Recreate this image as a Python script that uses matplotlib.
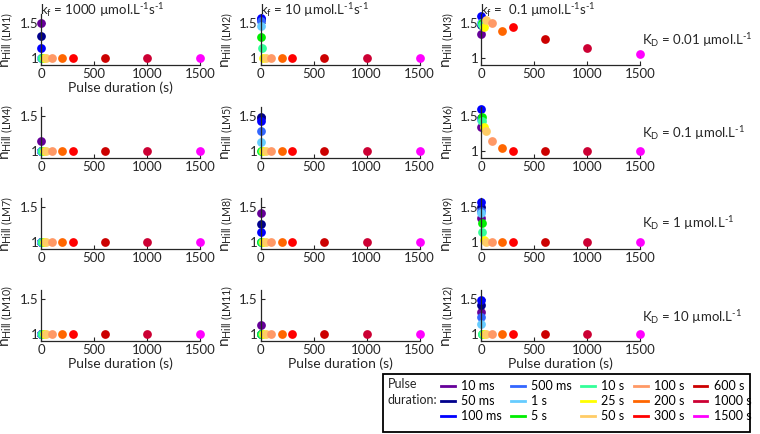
import numpy as np
from matplotlib import pyplot as plt
from matplotlib.lines import Line2D
from matplotlib.patches import Rectangle

# fonts
plt.rcParams["font.family"] = ["Lato", "DejaVu Sans"]
plt.rcParams["mathtext.fontset"] = "custom"
plt.rcParams["mathtext.rm"] = "Lato"
plt.rcParams["mathtext.it"] = "Lato:italic"
plt.rcParams["mathtext.bf"] = "Lato:bold"

# pulse durations (s) and legend names
durations = [0.01, 0.05, 0.1, 0.5, 1, 5, 10, 25, 50, 100, 200, 300, 600, 1000, 1500]
duration_labels = ["10 ms", "50 ms", "100 ms", "500 ms", "1 s", "5 s", "10 s", "25 s",
                   "50 s", "100 s", "200 s", "300 s", "600 s", "1000 s", "1500 s"]
colors = ["#660099", "#00008c", "#0000ff", "#3366ff", "#66ccff", "#00ee00", "#33ff99",
          "#ffff00", "#ffcc66", "#ff9966", "#ff6600", "#ff0000", "#cc0000", "#cc0033", "#ff00ff"]

# n_Hill values
nhill_lm1 = [1.50, 1.31, 1.14, 1, 1, 1, 1, 1, 1, 1, 1, 1, 1, 1, 1]
nhill_lm2 = [1.55, 1.56, 1.57, 1.53, 1.46, 1.30, 1.14, 1, 1, 1, 1, 1, 1, 1, 1]
nhill_lm3 = [1.34, 1.47, 1.61, 1.50, 1.50, 1.50, 1.48, 1.45, 1.54, 1.50, 1.39, 1.45, 1.28, 1.15, 1.06]
nhill_lm4 = [1.14, 1, 1, 1, 1, 1, 1, 1, 1, 1, 1, 1, 1, 1, 1]
nhill_lm5 = [1.47, 1.49, 1.43, 1.29, 1.13, 1, 1, 1, 1, 1, 1, 1, 1, 1, 1]
nhill_lm6 = [1.35, 1.47, 1.60, 1.46, 1.45, 1.49, 1.43, 1.35, 1.29, 1.14, 1.04, 1, 1, 1, 1]
nhill_lm7 = [1, 1, 1, 1, 1, 1, 1, 1, 1, 1, 1, 1, 1, 1, 1]
nhill_lm8 = [1.41, 1.26, 1.14, 1, 1, 1, 1, 1, 1, 1, 1, 1, 1, 1, 1]
nhill_lm9 = [1.35, 1.50, 1.57, 1.45, 1.41, 1.27, 1.15, 1.03, 1, 1, 1, 1, 1, 1, 1]
nhill_lm10 = [1, 1, 1, 1, 1, 1, 1, 1, 1, 1, 1, 1, 1, 1, 1]
nhill_lm11 = [1.13, 1, 1, 1, 1, 1, 1, 1, 1, 1, 1, 1, 1, 1, 1]
nhill_lm12 = [1.32, 1.41, 1.49, 1.25, 1.14, 1, 1, 1, 1, 1, 1, 1, 1, 1, 1]

panels = [nhill_lm1, nhill_lm2, nhill_lm3, nhill_lm4, nhill_lm5, nhill_lm6,
          nhill_lm7, nhill_lm8, nhill_lm9, nhill_lm10, nhill_lm11, nhill_lm12]

col_titles = [r"k$_\mathrm{f}$ = 1000 µmol.L$^{\text{-1}}$s$^{\text{-1}}$",
              r"k$_\mathrm{f}$ = 10 µmol.L$^{\text{-1}}$s$^{\text{-1}}$",
              r"k$_\mathrm{f}$ =  0.1 µmol.L$^{\text{-1}}$s$^{\text{-1}}$"]
row_titles = [r"K$_\mathrm{D}$ = 0.01 µmol.L$^{\text{-1}}$",
              r"K$_\mathrm{D}$ = 0.1 µmol.L$^{\text{-1}}$",
              r"K$_\mathrm{D}$ = 1 µmol.L$^{\text{-1}}$",
              r"K$_\mathrm{D}$ = 10 µmol.L$^{\text{-1}}$"]

axis_col = "#262626"
fig = plt.figure(figsize=(7.6, 4.34), dpi=100)

lefts = [0.054, 0.343, 0.633]
bottoms = [0.850, 0.636, 0.426, 0.214]
width, height = 0.209, 0.1175

for i, vals in enumerate(panels):
    r, c = divmod(i, 3)
    ax = fig.add_axes([lefts[c], bottoms[r], width, height])
    for d, v, col in zip(durations, vals, colors):
        ax.plot(d, v, "o", color=col, markersize=6.3, markeredgewidth=0, clip_on=False)
    ax.set_xlim(0, 1500)
    ax.set_ylim(0.9, 1.63)
    ax.set_xticks([0, 500, 1000, 1500])
    ax.set_yticks([1, 1.5])
    ax.set_yticklabels(["1", "1.5"])
    for s in ["top", "right"]:
        ax.spines[s].set_visible(False)
    for s in ["left", "bottom"]:
        ax.spines[s].set_color(axis_col)
        ax.spines[s].set_linewidth(0.9)
    ax.tick_params(direction="in", length=3, colors=axis_col, labelsize=9.5, pad=2)
    ax.set_ylabel(r"n$_{\mathrm{Hill\ (LM%d)}}$" % (i + 1), fontsize=11, labelpad=3, color=axis_col)
    if (r == 0 and c == 0) or r == 3:
        ax.set_xlabel("Pulse duration (s)", fontsize=10, labelpad=1, color=axis_col)

for c, t in enumerate(col_titles):
    fig.text(lefts[c] - 0.001, 0.978, t, fontsize=9.5, va="center", ha="left", color=axis_col)

for r, t in enumerate(row_titles):
    fig.text(0.845, [0.908, 0.694, 0.486, 0.270][r], t, fontsize=9.5, va="center",
             ha="left", color=axis_col)

# legend box at the bottom right
fig.patches.append(Rectangle((383 / 760, 2 / 434), 367 / 760, 58 / 434,
                             transform=fig.transFigure, fill=False,
                             edgecolor="black", linewidth=1.3))
fig.text(388 / 760, 1 - 392 / 434, "Pulse\nduration:", fontsize=9, va="center",
         ha="left", linespacing=1.3, color=axis_col)
handles = [Line2D([], [], color=col, linewidth=2) for col in colors]
fig.legend(handles, duration_labels, ncol=5, loc="center left",
           bbox_to_anchor=(441 / 760, 1 - 401 / 434), frameon=False, fontsize=9,
           handlelength=1.1, handletextpad=0.5, columnspacing=0.75, labelspacing=0.25,
           borderpad=0, borderaxespad=0)

fig.savefig("out.png", dpi=100)
